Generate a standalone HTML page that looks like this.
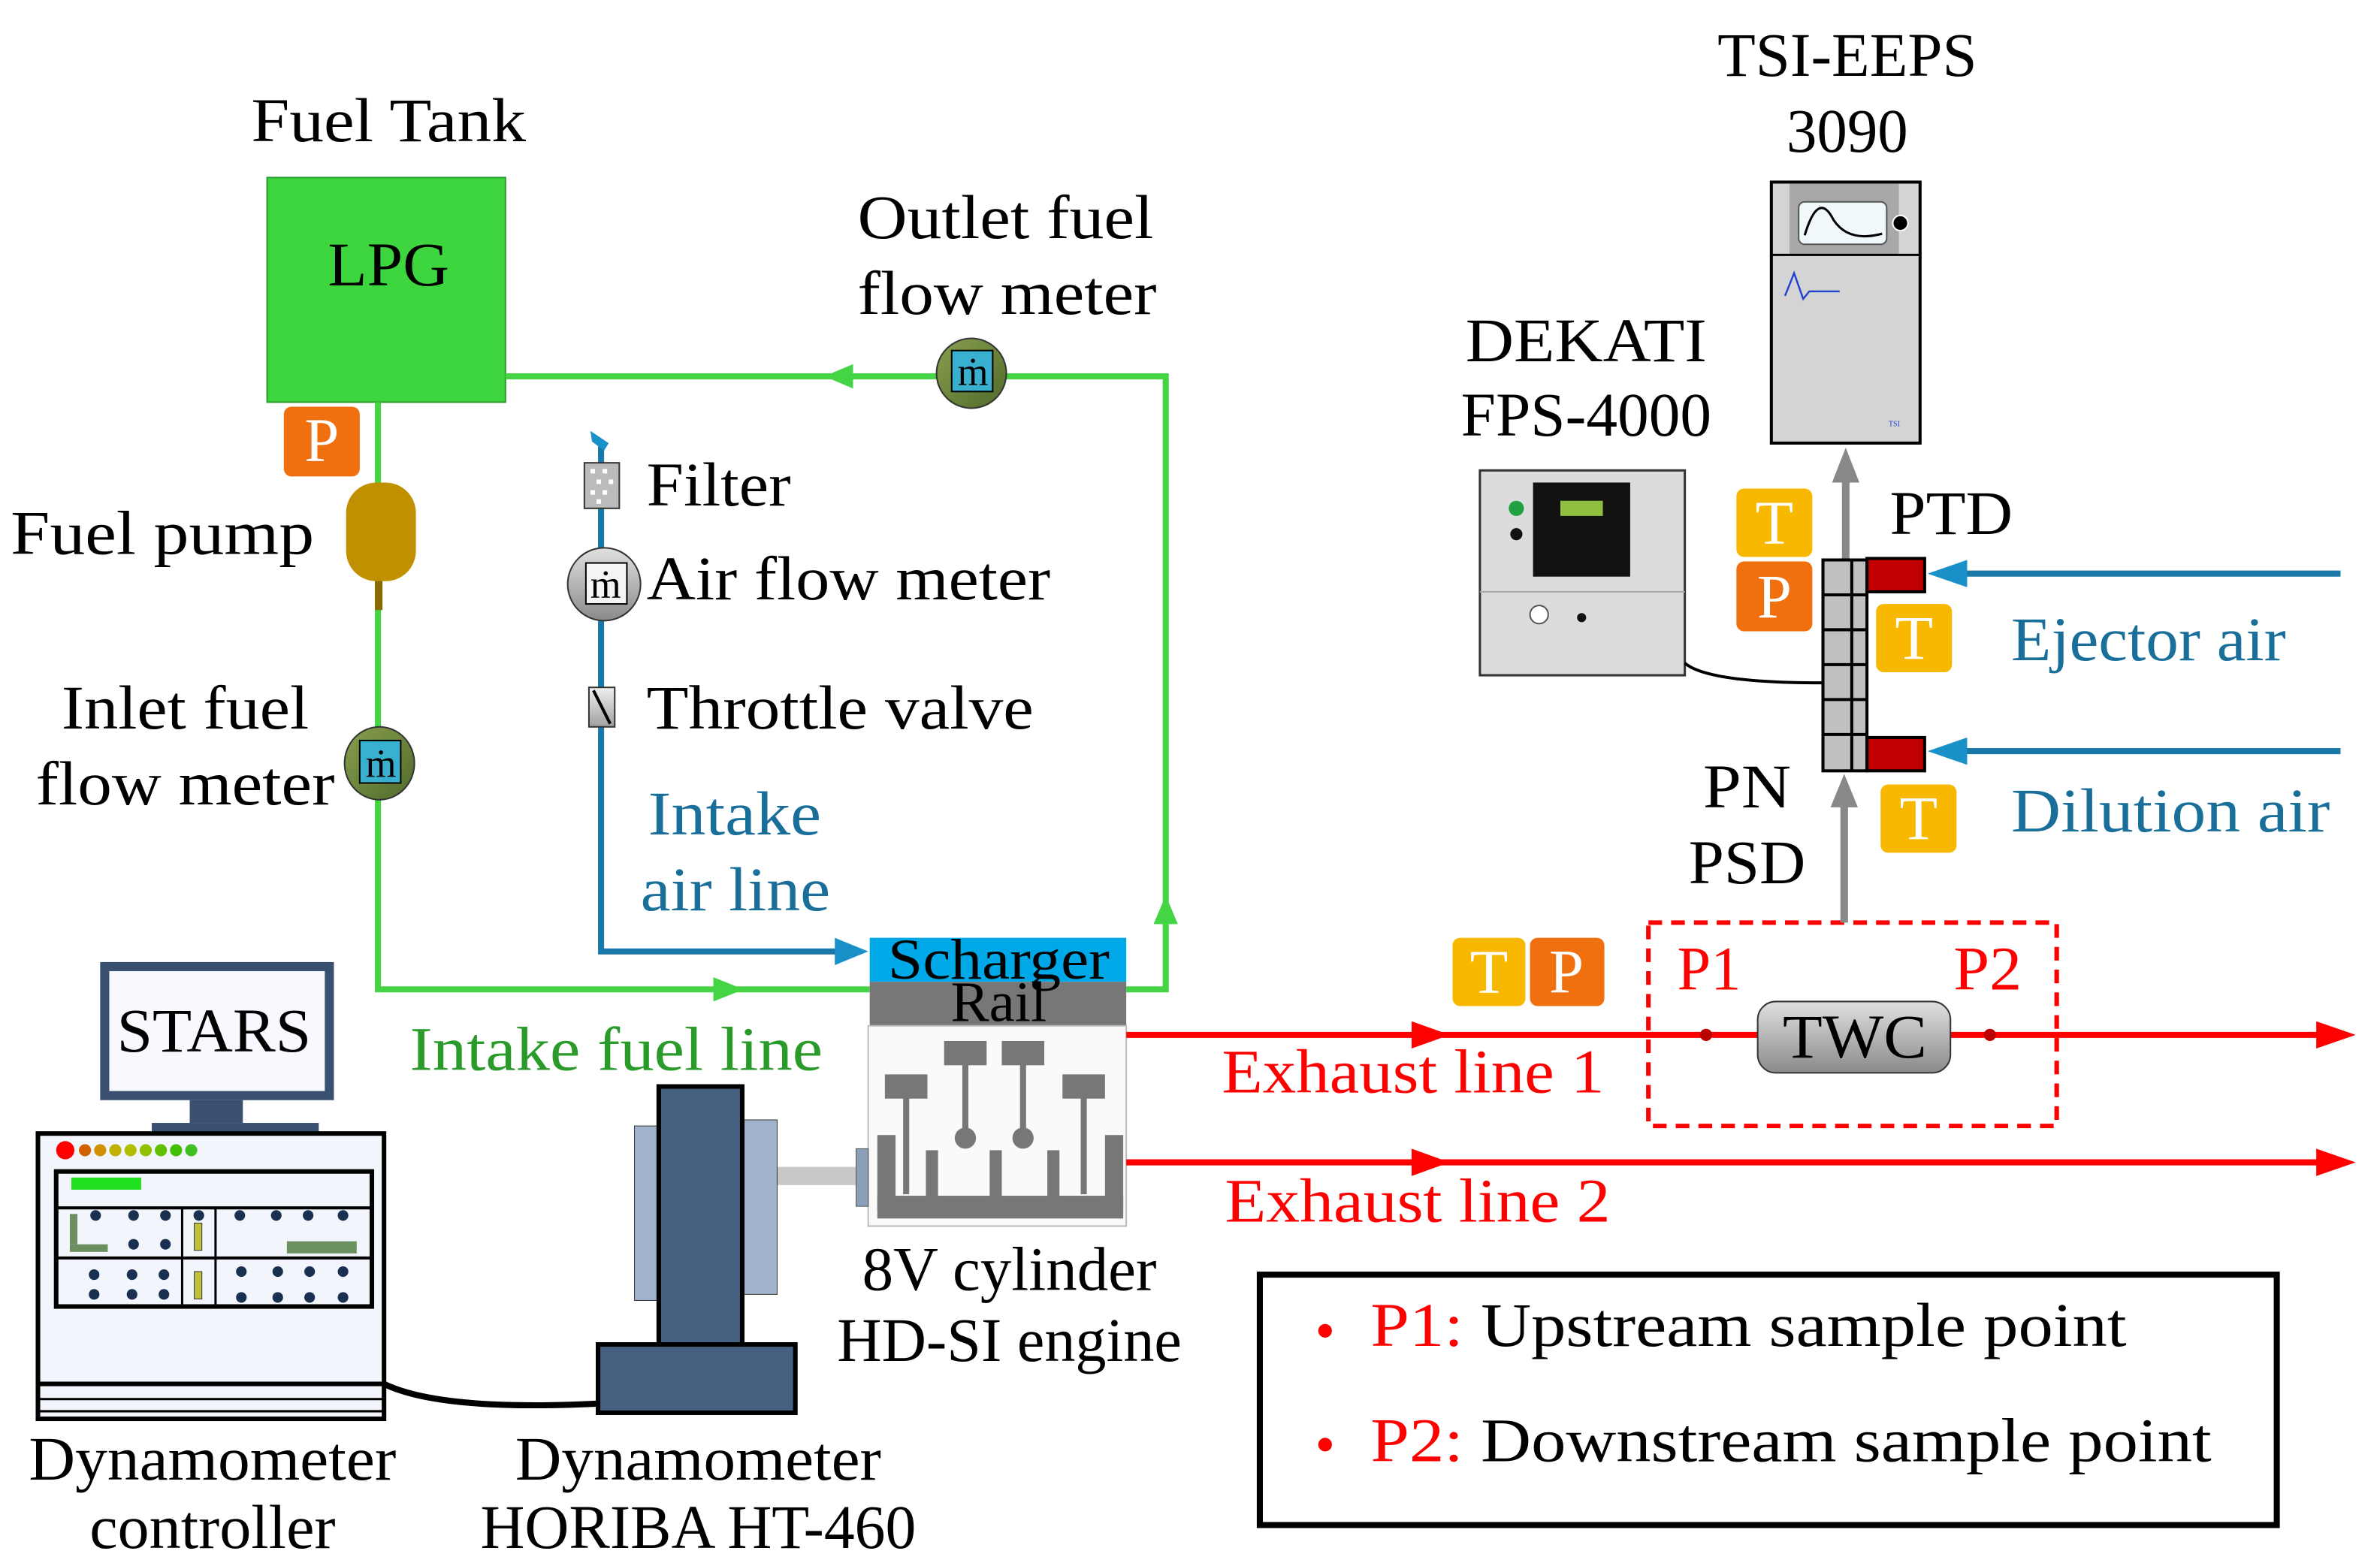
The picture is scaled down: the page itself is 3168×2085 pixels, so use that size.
<!DOCTYPE html>
<html><head><meta charset="utf-8"><style>
html,body{margin:0;padding:0;background:#fff;}
svg{display:block;}
text{font-family:"Liberation Serif",serif;}
</style></head><body>
<svg width="3168" height="2085" viewBox="0 0 1568 1032" preserveAspectRatio="none" xmlns="http://www.w3.org/2000/svg">
<defs>
<linearGradient id="gm" x1="0" y1="0" x2="1" y2="1"><stop offset="0" stop-color="#8aa050"/><stop offset="1" stop-color="#4f6a2a"/></linearGradient>
<linearGradient id="gg" x1="0" y1="0" x2="0" y2="1"><stop offset="0" stop-color="#e0e0e0"/><stop offset="1" stop-color="#8a8a8a"/></linearGradient>
<linearGradient id="gt" x1="0" y1="0" x2="0" y2="1"><stop offset="0" stop-color="#f0f0f0"/><stop offset="1" stop-color="#a0a0a0"/></linearGradient>
</defs>
<g font-size="41" fill="#000">
<!-- fuel tank -->
<text x="256" y="93" text-anchor="middle" textLength="181" lengthAdjust="spacingAndGlyphs">Fuel Tank</text>
<rect x="176" y="117" width="157" height="148" fill="#3ed63e" stroke="#2a9a2a" stroke-width="1"/>
<text x="256" y="188" text-anchor="middle" textLength="80" lengthAdjust="spacingAndGlyphs">LPG</text>
<!-- green lines -->
<g stroke="#44d444" stroke-width="4" fill="none">
<polyline points="333,248 768,248 768,652 742,652"/>
<polyline points="249,265 249,652 573,652"/>
</g>
<polygon points="543,248 562,240 562,256" fill="#44d444"/>
<polygon points="768,590 760,609 776,609" fill="#44d444"/>
<polygon points="490,652 470,644 470,660" fill="#44d444"/>
<!-- P box -->
<rect x="187" y="268" width="50" height="46" rx="5" fill="#f07010"/>
<text x="212" y="304" text-anchor="middle" fill="#fff">P</text>
<!-- pump -->
<rect x="247" y="380" width="5" height="22" fill="#8a6a00"/>
<rect x="228" y="318" width="46" height="65" rx="20" fill="#c09000"/>
<text x="7" y="365" textLength="200" lengthAdjust="spacingAndGlyphs">Fuel pump</text>
<!-- inlet flow meter -->
<ellipse cx="250" cy="503" rx="23" ry="24" fill="url(#gm)" stroke="#333"/>
<rect x="237" y="488" width="27" height="28" fill="#3ab0d0" stroke="#000"/>
<text x="251" y="512" text-anchor="middle" font-size="26">ṁ</text>
<text x="122" y="480" text-anchor="middle" textLength="163" lengthAdjust="spacingAndGlyphs">Inlet fuel</text>
<text x="122" y="530" text-anchor="middle" textLength="197" lengthAdjust="spacingAndGlyphs">flow meter</text>
<!-- outlet flow meter -->
<ellipse cx="640" cy="246" rx="23" ry="23" fill="url(#gm)" stroke="#333"/>
<rect x="627" y="231" width="27" height="27" fill="#3ab0d0" stroke="#000"/>
<text x="641" y="254" text-anchor="middle" font-size="26">ṁ</text>
<text x="565" y="157" textLength="195" lengthAdjust="spacingAndGlyphs">Outlet fuel</text>
<text x="565" y="207" textLength="197" lengthAdjust="spacingAndGlyphs">flow meter</text>
<!-- intake air line -->
<polyline points="396,290 396,627 555,627" stroke="#1a78a8" stroke-width="4" fill="none"/>
<polygon points="572,627 550,618 550,636" fill="#1a90c8"/>
<path d="M389,284 L401,292 L398,297 L390,291Z" fill="#1a90c8"/>
<rect x="385" y="305" width="23" height="30" fill="#bbb" stroke="#333"/>
<g fill="#fff"><rect x="389" y="309" width="3" height="3"/><rect x="397" y="309" width="3" height="3"/><rect x="393" y="316" width="3" height="3"/><rect x="401" y="316" width="3" height="3"/><rect x="389" y="323" width="3" height="3"/><rect x="397" y="323" width="3" height="3"/><rect x="393" y="329" width="3" height="3"/></g>
<text x="426" y="333" textLength="95" lengthAdjust="spacingAndGlyphs">Filter</text>
<ellipse cx="398" cy="385" rx="24" ry="24" fill="url(#gg)" stroke="#333"/>
<rect x="386" y="371" width="27" height="27" fill="#f4f4f4" stroke="#000"/>
<text x="399" y="394" text-anchor="middle" font-size="26">ṁ</text>
<text x="426" y="395" textLength="266" lengthAdjust="spacingAndGlyphs">Air flow meter</text>
<rect x="388" y="453" width="17" height="26" fill="url(#gt)" stroke="#333"/>
<line x1="391" y1="455" x2="402" y2="477" stroke="#000" stroke-width="2"/>
<text x="426" y="480" textLength="255" lengthAdjust="spacingAndGlyphs">Throttle valve</text>
<text x="427" y="550" fill="#1a6f9a" textLength="114" lengthAdjust="spacingAndGlyphs">Intake</text>
<text x="422" y="600" fill="#1a6f9a" textLength="125" lengthAdjust="spacingAndGlyphs">air line</text>
<text x="270" y="705" fill="#2a9a2a" textLength="272" lengthAdjust="spacingAndGlyphs">Intake fuel line</text>
<!-- engine -->
<rect x="573" y="618" width="169" height="29" fill="#00a8e8"/>
<rect x="573" y="647" width="169" height="29" fill="#777"/>
<text x="658" y="645" text-anchor="middle" font-size="38" textLength="146" lengthAdjust="spacingAndGlyphs">Scharger</text>
<text x="658" y="673" text-anchor="middle" font-size="38">Rail</text>
<rect x="572" y="676" width="170" height="132" fill="#fafafa" stroke="#bbb"/>
<g fill="#777">
<rect x="622" y="686" width="28" height="16"/><rect x="660" y="686" width="28" height="16"/>
<rect x="583" y="708" width="28" height="16"/><rect x="700" y="708" width="28" height="16"/>
<rect x="634" y="700" width="4" height="50"/><rect x="672" y="700" width="4" height="50"/>
<rect x="595" y="722" width="4" height="65"/><rect x="712" y="722" width="4" height="65"/>
<circle cx="636" cy="750" r="7"/><circle cx="674" cy="750" r="7"/>
<rect x="578" y="748" width="12" height="50"/><rect x="728" y="748" width="12" height="50"/>
<rect x="578" y="788" width="162" height="15"/>
<rect x="610" y="758" width="8" height="35"/><rect x="652" y="758" width="8" height="35"/><rect x="690" y="758" width="8" height="35"/>
</g>
<text x="665" y="850" text-anchor="middle" textLength="194" lengthAdjust="spacingAndGlyphs">8V cylinder</text>
<text x="665" y="897" text-anchor="middle" textLength="227" lengthAdjust="spacingAndGlyphs">HD-SI engine</text>
<!-- dynamometer -->
<rect x="495" y="769" width="72" height="12" fill="#c8c8c8"/>
<rect x="564" y="757" width="8" height="38" fill="#8aa0b8" stroke="#555" stroke-width=".5"/>
<rect x="418" y="742" width="16" height="115" fill="#a0b4cc" stroke="#333" stroke-width=".5"/>
<rect x="488" y="738" width="24" height="115" fill="#a0b4cc" stroke="#333" stroke-width=".5"/>
<rect x="434" y="716" width="55" height="170" fill="#456080" stroke="#000" stroke-width="3"/>
<rect x="394" y="886" width="130" height="45" fill="#456080" stroke="#000" stroke-width="3"/>
<path d="M253,912 Q290,930 394,925" stroke="#000" stroke-width="4" fill="none"/>
<text x="460" y="975" text-anchor="middle" textLength="241" lengthAdjust="spacingAndGlyphs">Dynamometer</text>
<text x="460" y="1020" text-anchor="middle" textLength="287" lengthAdjust="spacingAndGlyphs">HORIBA HT-460</text>
<!-- controller -->
<rect x="66" y="634" width="154" height="91" fill="#3a5070"/>
<rect x="72" y="640" width="142" height="79" fill="#f8f9ff"/>
<text x="141" y="693" text-anchor="middle" textLength="128" lengthAdjust="spacingAndGlyphs">STARS</text>
<rect x="125" y="725" width="35" height="15" fill="#3a5070"/>
<rect x="100" y="740" width="110" height="8" fill="#3a5070"/>
<rect x="25" y="747" width="228" height="188" fill="#f2f5fc" stroke="#000" stroke-width="3"/>
<line x1="25" y1="912" x2="253" y2="912" stroke="#000" stroke-width="3"/>
<line x1="25" y1="922" x2="253" y2="922" stroke="#000" stroke-width="1.5"/>
<line x1="25" y1="930" x2="253" y2="930" stroke="#000" stroke-width="1.5"/>
<circle cx="43" cy="758" r="6" fill="#f00"/>
<g><circle cx="56" cy="758" r="4" fill="#d06000"/><circle cx="66" cy="758" r="4" fill="#d09000"/><circle cx="76" cy="758" r="4" fill="#c0b000"/><circle cx="86" cy="758" r="4" fill="#b0c000"/><circle cx="96" cy="758" r="4" fill="#90c000"/><circle cx="106" cy="758" r="4" fill="#60c000"/><circle cx="116" cy="758" r="4" fill="#40c000"/><circle cx="126" cy="758" r="4" fill="#40c020"/></g>
<rect x="37" y="772" width="208" height="89" fill="none" stroke="#000" stroke-width="3"/>
<rect x="47" y="776" width="46" height="8" fill="#20e020"/>
<line x1="37" y1="796" x2="245" y2="796" stroke="#000" stroke-width="2"/>
<line x1="37" y1="829" x2="245" y2="829" stroke="#000" stroke-width="2"/>
<line x1="120" y1="796" x2="120" y2="861" stroke="#000" stroke-width="1.5"/>
<line x1="142" y1="796" x2="142" y2="861" stroke="#000" stroke-width="1.5"/>
<g fill="#1a3050">
<circle cx="63" cy="801" r="3.5"/><circle cx="88" cy="801" r="3.5"/><circle cx="109" cy="801" r="3.5"/><circle cx="131" cy="801" r="3.5"/>
<circle cx="158" cy="801" r="3.5"/><circle cx="182" cy="801" r="3.5"/><circle cx="203" cy="801" r="3.5"/><circle cx="226" cy="801" r="3.5"/>
<circle cx="88" cy="820" r="3.5"/><circle cx="109" cy="820" r="3.5"/>
<circle cx="62" cy="840" r="3.5"/><circle cx="87" cy="840" r="3.5"/><circle cx="108" cy="840" r="3.5"/><circle cx="159" cy="838" r="3.5"/><circle cx="183" cy="838" r="3.5"/><circle cx="204" cy="838" r="3.5"/><circle cx="226" cy="838" r="3.5"/>
<circle cx="62" cy="853" r="3.5"/><circle cx="87" cy="853" r="3.5"/><circle cx="108" cy="853" r="3.5"/><circle cx="159" cy="855" r="3.5"/><circle cx="183" cy="855" r="3.5"/><circle cx="204" cy="855" r="3.5"/><circle cx="226" cy="855" r="3.5"/>
</g>
<rect x="46" y="800" width="5" height="20" fill="#6a9060"/><rect x="46" y="820" width="25" height="5" fill="#6a9060"/>
<rect x="189" y="818" width="46" height="8" fill="#6a9060"/>
<rect x="128" y="806" width="5" height="18" fill="#c0c040" stroke="#333" stroke-width=".5"/>
<rect x="128" y="838" width="5" height="18" fill="#c0c040" stroke="#333" stroke-width=".5"/>
<text x="140" y="975" text-anchor="middle" textLength="242" lengthAdjust="spacingAndGlyphs">Dynamometer</text>
<text x="140" y="1020" text-anchor="middle" textLength="162" lengthAdjust="spacingAndGlyphs">controller</text>
<!-- exhaust lines -->
<g stroke="#f00" stroke-width="4">
<line x1="742" y1="682" x2="1530" y2="682"/>
<line x1="742" y1="766" x2="1530" y2="766"/>
</g>
<g fill="#f00">
<polygon points="1552,682 1526,673 1526,691"/><polygon points="1552,766 1526,757 1526,775"/>
<polygon points="955,682 930,673 930,691"/><polygon points="955,766 930,757 930,775"/>
</g>
<text x="805" y="720" fill="#f00" textLength="252" lengthAdjust="spacingAndGlyphs">Exhaust line 1</text>
<text x="807" y="805" fill="#f00" textLength="254" lengthAdjust="spacingAndGlyphs">Exhaust line 2</text>
<rect x="957" y="618" width="48" height="45" rx="5" fill="#f8b800"/>
<text x="981" y="654" text-anchor="middle" fill="#fff">T</text>
<rect x="1008" y="618" width="49" height="45" rx="5" fill="#f07010"/>
<text x="1032" y="654" text-anchor="middle" fill="#fff">P</text>
<rect x="1086" y="608" width="269" height="134" fill="none" stroke="#f00" stroke-width="3" stroke-dasharray="9,6"/>
<rect x="1158" y="660" width="127" height="47" rx="12" fill="url(#gg)" stroke="#333"/>
<text x="1222" y="697" text-anchor="middle" textLength="95" lengthAdjust="spacingAndGlyphs">TWC</text>
<circle cx="1124" cy="682" r="4" fill="#b00"/><circle cx="1311" cy="682" r="4" fill="#b00"/>
<text x="1105" y="652" fill="#f00" textLength="42" lengthAdjust="spacingAndGlyphs">P1</text>
<text x="1287" y="652" fill="#f00" textLength="45" lengthAdjust="spacingAndGlyphs">P2</text>
<!-- sampling column -->
<line x1="1215" y1="608" x2="1215" y2="528" stroke="#888" stroke-width="5"/>
<polygon points="1215,510 1206,532 1224,532" fill="#888"/>
<line x1="1216" y1="370" x2="1216" y2="315" stroke="#888" stroke-width="5"/>
<polygon points="1216,295 1207,318 1225,318" fill="#888"/>
<rect x="1201" y="369" width="29" height="139" fill="#c0c0c0" stroke="#000" stroke-width="2"/>
<g stroke="#000" stroke-width="2"><line x1="1220" y1="369" x2="1220" y2="508"/><line x1="1201" y1="392" x2="1230" y2="392"/><line x1="1201" y1="415" x2="1230" y2="415"/><line x1="1201" y1="438" x2="1230" y2="438"/><line x1="1201" y1="461" x2="1230" y2="461"/><line x1="1201" y1="484" x2="1230" y2="484"/></g>
<rect x="1230" y="368" width="38" height="22" fill="#c00000" stroke="#000" stroke-width="2"/>
<rect x="1230" y="486" width="38" height="22" fill="#c00000" stroke="#000" stroke-width="2"/>
<g stroke="#1a78a8" stroke-width="4"><line x1="1290" y1="378" x2="1542" y2="378"/><line x1="1290" y1="495" x2="1542" y2="495"/></g>
<polygon points="1270,378 1296,369 1296,387" fill="#1a90c8"/>
<polygon points="1270,495 1296,486 1296,504" fill="#1a90c8"/>
<rect x="1144" y="322" width="50" height="45" rx="5" fill="#f8b800"/><text x="1169" y="358" text-anchor="middle" fill="#fff">T</text>
<rect x="1144" y="370" width="50" height="46" rx="5" fill="#f07010"/><text x="1169" y="407" text-anchor="middle" fill="#fff">P</text>
<rect x="1236" y="398" width="50" height="45" rx="5" fill="#f8b800"/><text x="1261" y="434" text-anchor="middle" fill="#fff">T</text>
<rect x="1239" y="517" width="50" height="45" rx="5" fill="#f8b800"/><text x="1264" y="553" text-anchor="middle" fill="#fff">T</text>
<text x="1245" y="352" textLength="81" lengthAdjust="spacingAndGlyphs">PTD</text>
<text x="1325" y="435" fill="#1a6f9a" textLength="181" lengthAdjust="spacingAndGlyphs">Ejector air</text>
<text x="1325" y="548" fill="#1a6f9a" textLength="210" lengthAdjust="spacingAndGlyphs">Dilution air</text>
<text x="1151" y="532" text-anchor="middle" textLength="58" lengthAdjust="spacingAndGlyphs">PN</text>
<text x="1151" y="582" text-anchor="middle" textLength="77" lengthAdjust="spacingAndGlyphs">PSD</text>
<!-- TSI -->
<text x="1217" y="50" text-anchor="middle" textLength="171" lengthAdjust="spacingAndGlyphs">TSI-EEPS</text>
<text x="1217" y="100" text-anchor="middle" textLength="80" lengthAdjust="spacingAndGlyphs">3090</text>
<rect x="1167" y="120" width="98" height="172" fill="#d4d4d4" stroke="#000" stroke-width="2"/>
<rect x="1179" y="121" width="72" height="47" fill="#a8a8a8"/>
<line x1="1167" y1="168" x2="1265" y2="168" stroke="#000" stroke-width="1.5"/>
<rect x="1185" y="133" width="58" height="28" rx="4" fill="#f0f8fc" stroke="#555"/>
<path d="M1189,155 Q1198,125 1208,145 Q1218,160 1240,154" stroke="#000" stroke-width="1.5" fill="none"/>
<circle cx="1252" cy="147" r="5" fill="#000" stroke="#fff"/>
<path d="M1176,195 L1182,180 L1188,197 L1192,192 L1212,192" stroke="#2040d0" stroke-width="1.2" fill="none"/>
<text x="1248" y="281" font-size="5" fill="#2040d0" text-anchor="middle">TSI</text>
<!-- DEKATI -->
<text x="1045" y="238" text-anchor="middle" textLength="159" lengthAdjust="spacingAndGlyphs">DEKATI</text>
<text x="1045" y="287" text-anchor="middle" textLength="165" lengthAdjust="spacingAndGlyphs">FPS-4000</text>
<rect x="975" y="310" width="135" height="135" fill="#dcdcdc" stroke="#333" stroke-width="1.5"/>
<rect x="1010" y="318" width="64" height="62" fill="#111"/>
<rect x="1028" y="330" width="28" height="10" fill="#90c040"/>
<circle cx="999" cy="335" r="5" fill="#20a040"/>
<circle cx="999" cy="352" r="4" fill="#111"/>
<circle cx="1014" cy="405" r="6" fill="#fff" stroke="#555"/>
<circle cx="1042" cy="407" r="3" fill="#111"/>
<line x1="975" y1="390" x2="1110" y2="390" stroke="#aaa"/>
<path d="M1110,437 Q1125,450 1201,450" stroke="#000" stroke-width="2" fill="none"/>
<!-- legend -->
<rect x="830" y="840" width="670" height="165" fill="#fff" stroke="#000" stroke-width="4"/>
<circle cx="873" cy="877" r="4.5" fill="#f00"/>
<text x="903" y="887" textLength="498" lengthAdjust="spacingAndGlyphs"><tspan fill="#f00">P1:</tspan> Upstream sample point</text>
<circle cx="873" cy="952" r="4.5" fill="#f00"/>
<text x="903" y="963" textLength="554" lengthAdjust="spacingAndGlyphs"><tspan fill="#f00">P2:</tspan> Downstream sample point</text>
</g>
</svg>
</body></html>
